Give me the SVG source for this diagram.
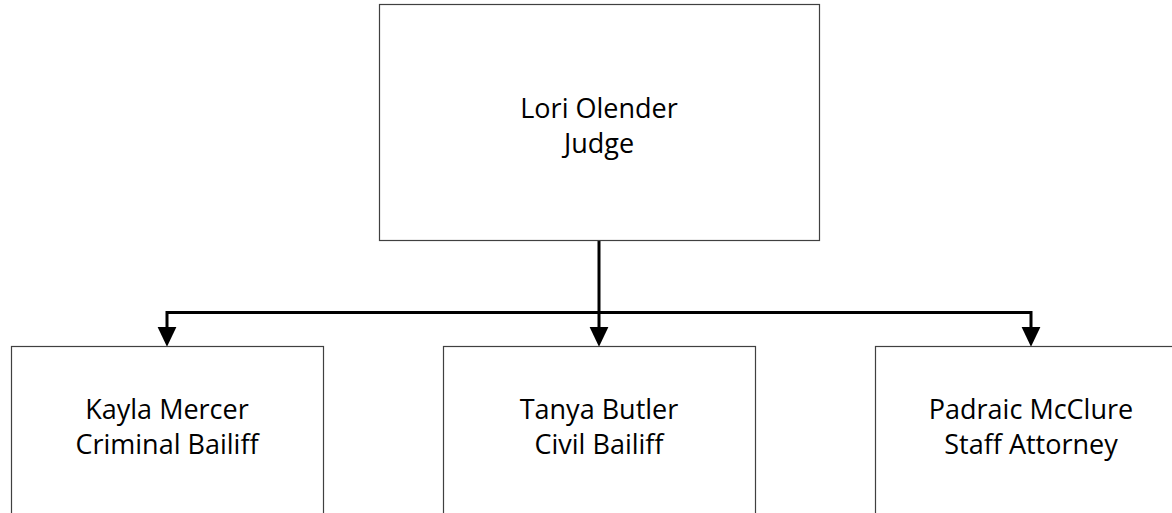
<svg xmlns="http://www.w3.org/2000/svg" width="1172" height="513" viewBox="0 0 1172 513">
  <style>
    .box { fill: #ffffff; stroke: #404040; stroke-width: 1.2; }
    .lbl { font-family: "Open Sans", "Noto Sans", sans-serif; font-size: 27px; fill: #000000; text-anchor: middle; }
    .conn { fill: none; stroke: #000000; stroke-width: 3; stroke-linejoin: miter; }
  </style>
  <defs>
    <marker id="arrow" markerUnits="userSpaceOnUse" markerWidth="20" markerHeight="20" viewBox="0 0 19 18" refX="3" refY="9" orient="auto">
      <path d="M0,0 L19,9 L0,18 Z" fill="#000000"/>
    </marker>
  </defs>
  <rect width="1172" height="513" fill="#ffffff"/>

  <g id="connectors">
    <path class="conn" d="M599 241 V330" marker-end="url(#arrow)"/>
    <path class="conn" d="M599 312.5 H167 V330" marker-end="url(#arrow)"/>
    <path class="conn" d="M599 312.5 H1031 V330" marker-end="url(#arrow)"/>
  </g>

  <g id="node-judge">
    <rect class="box" x="379.5" y="4.5" width="440" height="236"/>
    <text class="lbl" x="599" y="118">Lori Olender</text>
    <text class="lbl" x="599" y="153">Judge</text>
  </g>

  <g id="node-criminal-bailiff">
    <rect class="box" x="11.5" y="346.5" width="312" height="236"/>
    <text class="lbl" x="167" y="419">Kayla Mercer</text>
    <text class="lbl" x="167" y="454">Criminal Bailiff</text>
  </g>

  <g id="node-civil-bailiff">
    <rect class="box" x="443.5" y="346.5" width="312" height="236"/>
    <text class="lbl" x="599" y="419">Tanya Butler</text>
    <text class="lbl" x="599" y="454">Civil Bailiff</text>
  </g>

  <g id="node-staff-attorney">
    <rect class="box" x="875.5" y="346.5" width="312" height="236"/>
    <text class="lbl" x="1031" y="419">Padraic McClure</text>
    <text class="lbl" x="1031" y="454">Staff Attorney</text>
  </g>
</svg>
